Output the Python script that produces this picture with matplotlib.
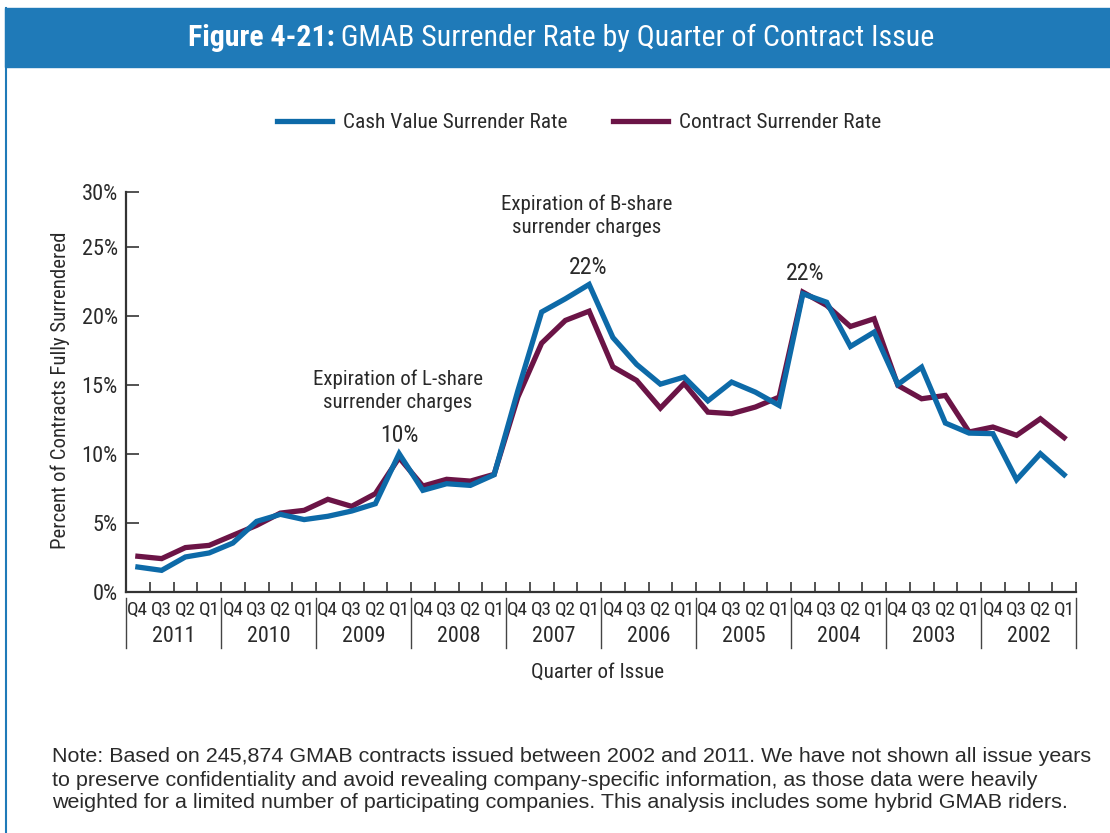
import numpy as np
import matplotlib
matplotlib.use("Agg")
import matplotlib.pyplot as plt
from matplotlib import font_manager
from matplotlib.lines import Line2D
from matplotlib.patches import Rectangle

# look for a narrow sans (the reference uses a condensed Futura-like face)
ttf = font_manager.fontManager.ttflist
names = {f.name for f in ttf}
FONT, STRETCH = "Liberation Sans", "normal"
for n in ["Liberation Sans Narrow", "Roboto Condensed", "Open Sans Condensed"]:
    if n in names:
        FONT = n
        break
else:
    if any(f.name == "DejaVu Sans" and "Condensed" in f.fname for f in ttf):
        FONT, STRETCH = "DejaVu Sans", "condensed"
plt.rcParams["font.family"] = [FONT, "DejaVu Sans"]
plt.rcParams["font.stretch"] = STRETCH
NOTE_FONT = ["Liberation Sans", "DejaVu Sans"]

# data (percent), newest issue quarter first
years = ["2011", "2010", "2009", "2008", "2007", "2006", "2005", "2004", "2003", "2002"]
quarters = ["Q4", "Q3", "Q2", "Q1"]
cash_value = [1.81, 1.57, 2.54, 2.83, 3.55, 5.12, 5.63, 5.25, 5.49, 5.87,
              6.40, 10.03, 7.37, 7.85, 7.73, 8.50, 14.60, 20.30, 21.26, 22.30,
              18.45, 16.50, 15.07, 15.58, 13.86, 15.22, 14.49, 13.53, 21.62, 21.01,
              17.80, 18.84, 15.05, 16.30, 12.25, 11.52, 11.48, 8.14, 10.03, 8.50]
contract = [2.59, 2.42, 3.22, 3.38, 4.11, 4.83, 5.72, 5.92, 6.72, 6.21,
            7.13, 9.74, 7.68, 8.17, 8.04, 8.53, 14.13, 18.04, 19.69, 20.36,
            16.33, 15.34, 13.33, 15.12, 13.04, 12.93, 13.41, 14.13, 21.74, 20.78,
            19.25, 19.81, 14.98, 14.01, 14.25, 11.60, 11.96, 11.36, 12.56, 11.19]
ytick_vals = [0, 5, 10, 15, 20, 25, 29]
ytick_labels = ["0%", "5%", "10%", "15%", "20%", "25%", "30%"]
note_lines = [
    "Note: Based on 245,874 GMAB contracts issued between 2002 and 2011. We have not shown all issue years",
    "to preserve confidentiality and avoid revealing company-specific information, as those data were heavily",
    "weighted for a limited number of participating companies. This analysis includes some hybrid GMAB riders.",
]

BLUE = "#0d6aa8"
PURPLE = "#6b1446"
HEADER = "#1f7ab8"
TXT = "#2a2a2a"
W, H = 1110, 833

fig = plt.figure(figsize=(W / 100, H / 100), dpi=100)
fig.patch.set_facecolor("white")
r = fig.canvas.get_renderer()


def fit_size(s, target, **kw):
    # font size that makes string s about target pixels wide
    t = fig.text(0, 0, s, fontsize=10, **kw)
    w = t.get_window_extent(r).width
    t.remove()
    return 10 * target / w


fs_tick = fit_size("25%", 36)
fs_q = fit_size("Q4", 21)
fs_year = fit_size("2011", 43)
fs_leg = fit_size("Cash Value Surrender Rate", 223)
fs_lab = fit_size("Percent of Contracts Fully Surrendered", 316)
fs_xlab = fit_size("Quarter of Issue", 132)
fs_ann = fit_size("Expiration of B-share", 171)
fs_pct = fit_size("22%", 38)
fs_note = fit_size(note_lines[0], 1040, family=NOTE_FONT)

# header bar + left border
fig.patches.append(Rectangle((5 / W, 1 - 67 / H), 1 - 5 / W, 59 / H,
                             transform=fig.transFigure, color=HEADER, zorder=0))
fig.lines.append(Line2D([5.5 / W, 5.5 / W], [0, 1 - 8 / H], transform=fig.transFigure,
                        color=HEADER, lw=1.5))

ax = fig.add_axes([126 / W, 241 / H, 950 / W, 400 / H])
x = np.arange(len(cash_value))
ax.plot(x, contract, color=PURPLE, lw=3.8, solid_joinstyle="miter", zorder=3)
ax.plot(x, cash_value, color=BLUE, lw=3.8, solid_joinstyle="miter", zorder=4)

ax.set_xlim(-0.5, len(x) - 0.5)
ax.set_ylim(0, 29)
ax.set_yticks(ytick_vals)
ax.set_yticklabels(ytick_labels, fontsize=fs_tick, color=TXT)
ax.set_xticks(np.arange(0.5, len(x), 1.0))
ax.set_xticklabels([])
for s in ["top", "right"]:
    ax.spines[s].set_visible(False)
for s in ["left", "bottom"]:
    ax.spines[s].set_linewidth(1.6)
    ax.spines[s].set_color("#333333")
ax.tick_params(axis="x", direction="in", length=7.5, width=1.3, color="#444444")
ax.tick_params(axis="y", direction="in", length=9, width=1.3, color="#444444", pad=6)

# category labels under the axis
tr = ax.get_xaxis_transform()
for g, yr in enumerate(years):
    for q, ql in enumerate(quarters):
        ax.text(g * 4 + q, -0.045, ql, transform=tr, ha="center", va="center",
                fontsize=fs_q, color=TXT)
    ax.text(g * 4 + 1.5, -0.11, yr, transform=tr, ha="center", va="center",
            fontsize=fs_year, color=TXT)
for g in range(len(years) + 1):
    ax.plot([g * 4 - 0.5] * 2, [-0.015, -0.14], transform=tr, color="#444444",
            lw=1.0, clip_on=False)

fig.text(60 / W, 1 - 390 / H, "Percent of Contracts Fully Surrendered", rotation=90,
         ha="center", va="center", fontsize=fs_lab, color=TXT)
fig.text(598 / W, 1 - 672 / H, "Quarter of Issue", ha="center", va="center",
         fontsize=fs_xlab, color=TXT)

# annotations
ax.text(10.95, 14.6, "Expiration of L-share\nsurrender charges", ha="center", va="center",
        fontsize=fs_ann, color=TXT, linespacing=1.25)
ax.text(11.03, 11.35, "10%", ha="center", va="center", fontsize=fs_pct, color=TXT)
ax.text(18.9, 27.3, "Expiration of B-share\nsurrender charges", ha="center", va="center",
        fontsize=fs_ann, color=TXT, linespacing=1.25)
ax.text(18.95, 23.5, "22%", ha="center", va="center", fontsize=fs_pct, color=TXT)
ax.text(28.1, 23.1, "22%", ha="center", va="center", fontsize=fs_pct, color=TXT)

# legend (spacings given in pixels, converted to font-size units)
em = fs_leg * 100 / 72
handles = [Line2D([], [], color=BLUE, lw=3.8), Line2D([], [], color=PURPLE, lw=3.8)]
fig.legend(handles, ["Cash Value Surrender Rate", "Contract Surrender Rate"],
           loc="center", bbox_to_anchor=(579 / W, 1 - 123 / H), ncol=2, frameon=False,
           fontsize=fs_leg, handlelength=55 / em, handletextpad=11 / em,
           columnspacing=45 / em, labelcolor=TXT, borderpad=0, borderaxespad=0)

# title: bold prefix + regular rest, centered together
ty = 1 - 38 / H
w_bold = fit_size("Figure 4-21:", 100, weight="bold")
w_reg = fit_size(" GMAB Surrender Rate by Quarter of Contract Issue", 100)
fs_title = 743 / (100 / w_bold + 100 / w_reg)
t1 = fig.text(0, ty, "Figure 4-21:", fontsize=fs_title, weight="bold", color="white", va="center")
t2 = fig.text(0, ty, " GMAB Surrender Rate by Quarter of Contract Issue", fontsize=fs_title,
              color="white", va="center")
w1 = t1.get_window_extent(r).width
w2 = t2.get_window_extent(r).width
x0 = 561 - (w1 + w2) / 2
t1.set_x(x0 / W)
t2.set_x((x0 + w1) / W)

for i, line in enumerate(note_lines):
    fig.text(52 / W, 1 - (757 + 23 * i) / H, line, ha="left", va="center",
             fontsize=fs_note, color=TXT, family=NOTE_FONT)

fig.savefig("out.png", dpi=100)
